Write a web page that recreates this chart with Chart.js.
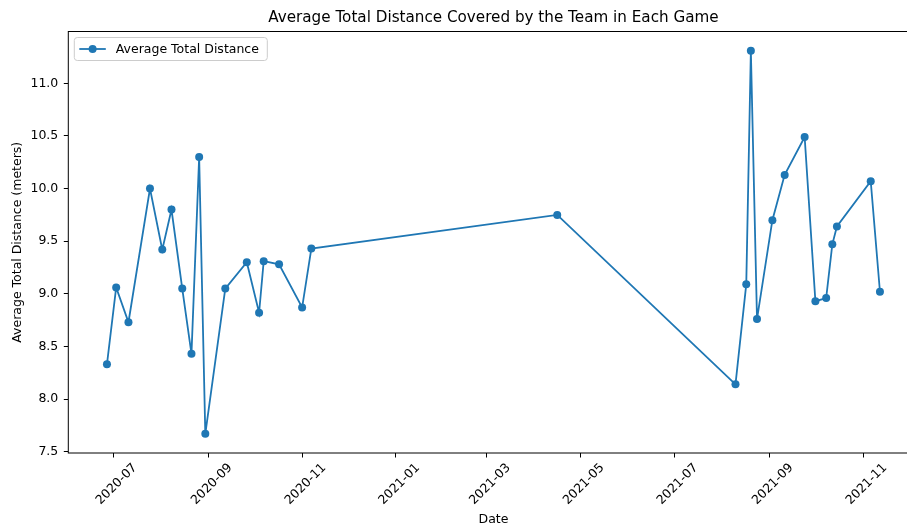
<!DOCTYPE html>
<html>
<head>
<meta charset="utf-8">
<title>Average Total Distance</title>
<script src="https://cdn.jsdelivr.net/npm/chart.js@4.4.1/dist/chart.umd.min.js"></script>
<style>
  html, body { margin: 0; padding: 0; background: #fff; overflow: hidden; }
  canvas { display: block; }
</style>
</head>
<body>
<!-- slightly wider than the window: the plot's right edge falls just outside -->
<canvas id="distance" width="919" height="527"></canvas>
<script>
// game dates and the team's average total distance per game
const gameDates = [
    '2020-06-27', '2020-07-03', '2020-07-11', '2020-07-25', '2020-08-02', '2020-08-08',
    '2020-08-15', '2020-08-21', '2020-08-26', '2020-08-30', '2020-09-12', '2020-09-26',
    '2020-10-04', '2020-10-07', '2020-10-17', '2020-11-01', '2020-11-07', '2021-04-16',
    '2021-08-10', '2021-08-17', '2021-08-20', '2021-08-24', '2021-09-03', '2021-09-11',
    '2021-09-24', '2021-10-01', '2021-10-08', '2021-10-12', '2021-10-15', '2021-11-06',
    '2021-11-12'
];
const avgDistance = [
    8.33, 9.06, 8.73, 10.00, 9.42, 9.80,
    9.05, 8.43, 10.30, 7.67, 9.05, 9.30,
    8.82, 9.31, 9.28, 8.87, 9.43, 9.75,
    8.14, 9.09, 11.31, 8.76, 9.70, 10.13,
    10.49, 8.93, 8.96, 9.47, 9.64, 10.07,
    9.02
];
const xTickDates = ['2020-07-01', '2020-09-01', '2020-11-01', '2021-01-01', '2021-03-01',
    '2021-05-01', '2021-07-01', '2021-09-01', '2021-11-01'];
const yTickValues = [7.5, 8.0, 8.5, 9.0, 9.5, 10.0, 10.5, 11.0];

const seriesLabel = 'Average Total Distance';
const chartTitle = 'Average Total Distance Covered by the Team in Each Game';

const lineColor = '#1f77b4';
const fontFamily = '"DejaVu Sans", sans-serif';

// dates go on a plain linear axis as day numbers
let toDay = s => Date.parse(s) / 86400000;
let dayLabel = v => new Date(Math.round(v) * 86400000).toISOString().slice(0, 7);

let points = gameDates.map((d, i) => ({ x: toDay(d), y: avgDistance[i] }));

// 5% breathing room on both axes
let xs = points.map(p => p.x);
let xPad = (Math.max(...xs) - Math.min(...xs)) * 0.05;
let yPad = (Math.max(...avgDistance) - Math.min(...avgDistance)) * 0.05;

// box around the plot, the title and the legend
const framePlugin = {
    id: 'frame',
    afterDraw(chart) {
        const { ctx, chartArea: a } = chart;
        ctx.save();
        ctx.strokeStyle = '#000';
        ctx.lineWidth = 1;
        ctx.strokeRect(a.left, a.top, a.right - a.left, a.bottom - a.top);

        ctx.fillStyle = '#000';
        ctx.font = `15.2px ${fontFamily}`;
        ctx.textAlign = 'center';
        ctx.textBaseline = 'middle';
        ctx.fillText(chartTitle, (a.left + a.right) / 2, 18);

        // legend
        const ds = chart.data.datasets[0];
        let bx = a.left + 6, by = a.top + 6, bw = 193, bh = 23;
        ctx.beginPath();
        ctx.roundRect(bx, by, bw, bh, 3);
        ctx.fillStyle = 'rgba(255,255,255,0.8)';
        ctx.fill();
        ctx.strokeStyle = '#cccccc';
        ctx.stroke();

        let ly = by + bh / 2;
        ctx.beginPath();
        ctx.moveTo(bx + 5, ly);
        ctx.lineTo(bx + 31.5, ly);
        ctx.strokeStyle = ds.borderColor;
        ctx.lineWidth = ds.borderWidth;
        ctx.stroke();
        ctx.beginPath();
        ctx.arc(bx + 18.3, ly, ds.pointRadius, 0, Math.PI * 2);
        ctx.fillStyle = ds.backgroundColor;
        ctx.fill();

        ctx.fillStyle = '#000';
        ctx.font = `12.5px ${fontFamily}`;
        ctx.textAlign = 'left';
        ctx.fillText(ds.label, bx + 41.5, ly + 0.5);
        ctx.restore();
    }
};

const tickFont = { family: fontFamily, size: 12.5 };

new Chart(document.getElementById('distance'), {
    type: 'line',
    data: {
        datasets: [{
            label: seriesLabel,
            data: points,
            borderColor: lineColor,
            backgroundColor: lineColor,
            borderWidth: 1.8,
            pointRadius: 4,
            pointHoverRadius: 4,
            pointBorderWidth: 0,
            tension: 0
        }]
    },
    options: {
        responsive: false,
        animation: false,
        events: [],
        layout: { autoPadding: false, padding: { top: 31.5, left: 0, right: 0.4, bottom: 0 } },
        plugins: {
            legend: { display: false },
            title: { display: false },
            tooltip: { enabled: false }
        },
        scales: {
            x: {
                type: 'linear',
                min: Math.min(...xs) - xPad,
                max: Math.max(...xs) + xPad,
                afterBuildTicks: s => { s.ticks = xTickDates.map(d => ({ value: toDay(d) })); },
                // fixed height, and don't let the rotated labels push the plot in
                afterFit: s => {
                    s.height = 74;
                    s.paddingLeft = 0;
                    s.paddingRight = 0;
                },
                border: { display: false },
                grid: { drawOnChartArea: false, color: '#000', tickLength: 4.5, tickWidth: 1 },
                ticks: {
                    autoSkip: false,
                    minRotation: 45,
                    maxRotation: 45,
                    labelOffset: 22,
                    padding: 3,
                    color: '#000',
                    font: tickFont,
                    callback: v => dayLabel(v)
                },
                title: { display: true, text: 'Date', color: '#000', font: tickFont, padding: { top: 0, bottom: 0 } }
            },
            y: {
                min: Math.min(...avgDistance) - yPad,
                max: Math.max(...avgDistance) + yPad,
                afterBuildTicks: s => { s.ticks = yTickValues.map(v => ({ value: v })); },
                afterFit: s => { s.width = 68.3; },
                border: { display: false },
                grid: { drawOnChartArea: false, color: '#000', tickLength: 4.5, tickWidth: 1 },
                ticks: {
                    padding: 5.5,
                    color: '#000',
                    font: tickFont,
                    callback: v => v.toFixed(1)
                },
                title: {
                    display: true,
                    text: 'Average Total Distance (meters)',
                    color: '#000',
                    font: tickFont,
                    padding: { top: 10.5, bottom: 0 }
                }
            }
        }
    },
    plugins: [framePlugin]
});
</script>
</body>
</html>
